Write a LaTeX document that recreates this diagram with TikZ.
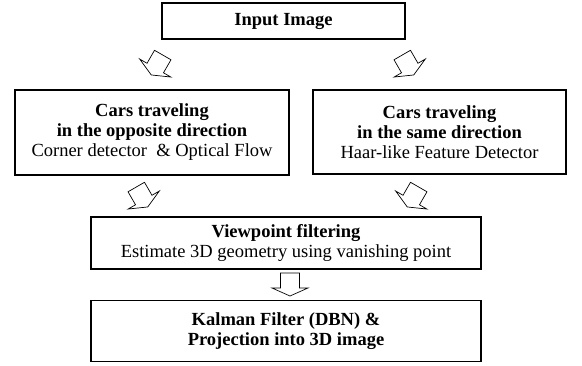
\documentclass[tikz,border=0pt]{standalone}
\usepackage{fontspec}
\setmainfont{Liberation Serif}
\begin{document}
\begin{tikzpicture}[x=1pt,y=-1pt,
  box/.style={draw, line width=1.3pt, align=center, inner sep=0pt,
    font=\fontsize{18.5}{20}\selectfont},
  arrowline/.style={draw, line width=0.7pt, line join=miter, fill=white},
  blockarrow/.pic={
    \path[arrowline] (-9.5,-11.5) -- (9.5,-11.5) -- (9.5,3.5) -- (18,3.5)
      -- (0,11.5) -- (-18,3.5) -- (-9.5,3.5) -- cycle;
  }]
\useasboundingbox (0,0) rectangle (582,366);
\node[box, minimum width=243pt, minimum height=36pt] (in) at (283.5,21) {\textbf{Input Image}};
\node[box, minimum width=274pt, minimum height=85pt] (opp) at (152,132.5)
  {\textbf{Cars traveling}\\ \textbf{in the opposite direction}\\ Corner detector\ \ \& Optical Flow};
\node[box, minimum width=253pt, minimum height=84pt] (same) at (439.5,132)
  {\textbf{Cars traveling}\\ \textbf{in the same direction}\\ Haar-like Feature Detector};
\node[box, minimum width=390pt, minimum height=52pt] (view) at (286,243)
  {\textbf{Viewpoint filtering}\\ Estimate 3D geometry using vanishing point};
\node[box, minimum width=390pt, minimum height=61pt] (kal) at (286,331)
  {\textbf{Kalman Filter (DBN) \&}\\ \textbf{Projection into 3D image}};
\pic[rotate=-30] (a1) at (157,65) {blockarrow};
\pic[rotate=30] (a2) at (408,65) {blockarrow};
\pic[rotate=30] (a3) at (142,197) {blockarrow};
\pic[rotate=-30] (a4) at (413,197) {blockarrow};
\pic (a5) at (290,284.5) {blockarrow};
\end{tikzpicture}
\end{document}
